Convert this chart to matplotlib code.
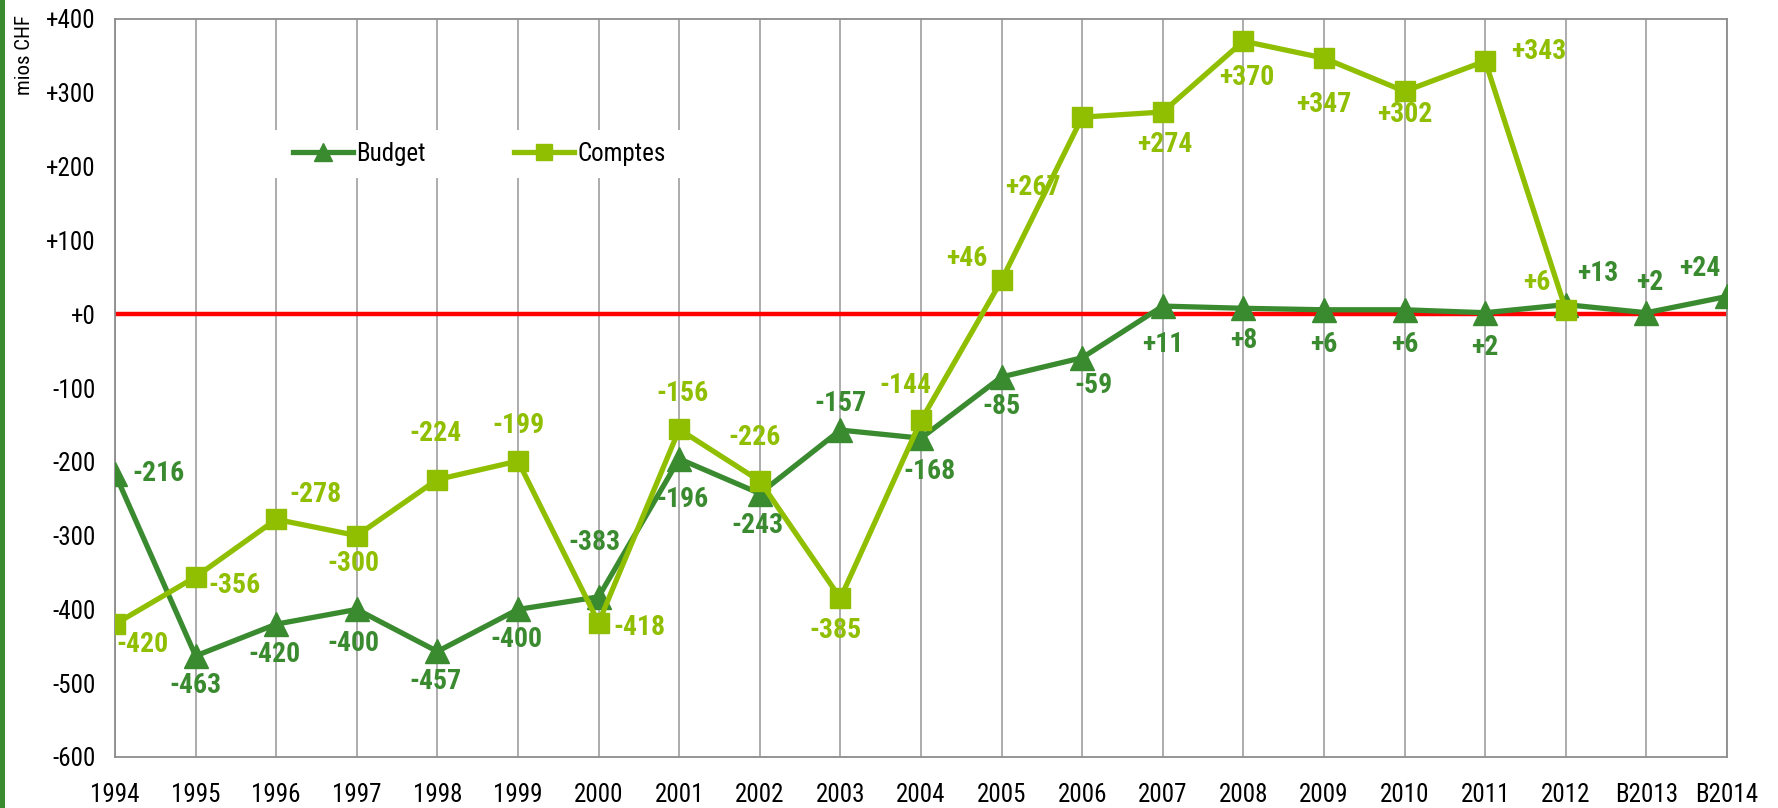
import matplotlib
matplotlib.use("Agg")
import matplotlib.pyplot as plt
from matplotlib import font_manager
from matplotlib.patches import Rectangle

# Data
years = ['1994', '1995', '1996', '1997', '1998', '1999', '2000', '2001', '2002', '2003',
         '2004', '2005', '2006', '2007', '2008', '2009', '2010', '2011', '2012', 'B2013', 'B2014']
budget = [-216, -463, -420, -400, -457, -400, -383, -196, -243, -157,
          -168, -85, -59, 11, 8, 6, 6, 2, 13, 2, 24]
comptes = [-420, -356, -278, -300, -224, -199, -418, -156, -226, -385,
           -144, 46, 267, 274, 370, 347, 302, 343, 6]

# label offsets in pixels (dx, dy with dy positive = down)
budget_off = [(44, 0), (0, 30), (-2, 30), (-3, 34), (-2, 30), (-2, 30), (-4, -54), (3, 41),
              (-2, 32), (0, -27), (8, 33), (0, 30), (11, 28), (0, 38), (0, 32), (0, 35),
              (0, 35), (0, 35), (32, -31), (3, -30), (-27, -28)]
comptes_off = [(27, 20), (39, 9), (39, -25), (-3, 28), (-2, -46), (0, -36), (41, 5), (3, -36),
               (-5, -43), (-5, 32), (-16, -35), (-35, -22), (-49, 70), (2, 33), (3, 36),
               (0, 46), (0, 23), (54, -10), (-29, -27)]

dark = '#3a8a2f'
light = '#8fbf00'

# pick a narrow family if one is installed
installed = {f.name for f in font_manager.fontManager.ttflist}
wanted = ['Liberation Sans Narrow', 'Arial Narrow', 'Roboto Condensed', 'Open Sans Condensed',
          'DejaVu Sans Condensed', 'Liberation Sans']
fams = [f for f in wanted if f in installed] + ['DejaVu Sans']
plt.rcParams['font.family'] = fams[:1] + ['DejaVu Sans']
narrow = fams[0] != 'Liberation Sans'
lbl_size = 20 if narrow else 19
tick_size = 18 if narrow else 16

fig = plt.figure(figsize=(17.78, 8.08), dpi=100)
ax = fig.add_axes([115 / 1778, 1 - 757 / 808, 1612 / 1778, 738 / 808])

x = list(range(len(years)))
ax.axhline(0, color='#ff0000', lw=3.2, zorder=2)
ax.plot(x, budget, color=dark, lw=3.8, marker='^', ms=17, label='Budget', zorder=4)
ax.plot(x[:len(comptes)], comptes, color=light, lw=3.8, marker='s', ms=14,
        label='Comptes', zorder=5)

for i, v in enumerate(budget):
    dx, dy = budget_off[i]
    ax.annotate(f'{v:+d}', (i, v), xytext=(dx, -dy), textcoords='offset pixels',
                ha='center', va='center', fontsize=lbl_size, fontweight='bold', color=dark,
                zorder=6, annotation_clip=False)
for i, v in enumerate(comptes):
    dx, dy = comptes_off[i]
    ax.annotate(f'{v:+d}', (i, v), xytext=(dx, -dy), textcoords='offset pixels',
                ha='center', va='center', fontsize=lbl_size, fontweight='bold', color=light,
                zorder=6, annotation_clip=False)

ax.set_xlim(0, len(years) - 1)
ax.set_ylim(-600, 400)
ax.set_xticks(x)
ax.set_xticklabels(years)
ax.set_yticks(range(-600, 401, 100))
ax.set_yticklabels([f'{t:+d}' if t >= 0 else str(t) for t in range(-600, 401, 100)])
ax.tick_params(length=0, labelsize=tick_size)
ax.tick_params(axis='x', pad=19)
ax.tick_params(axis='y', pad=14)
ax.grid(axis='x', color='#a6a6a6', lw=1.3)
ax.set_axisbelow(True)
for s in ax.spines.values():
    s.set_color('#8c8c8c')
    s.set_linewidth(1.3)

# white legend box hiding gridlines
ax.add_patch(Rectangle((0.096, 0.785), 0.267, 0.065, transform=ax.transAxes,
                       facecolor='white', edgecolor='none', zorder=1.5))
ax.legend(loc='center', bbox_to_anchor=(0.226, 0.817), ncol=2, frameon=False,
          fontsize=tick_size, handlelength=2.4, handletextpad=0.15, columnspacing=3.5,
          markerscale=0.8)

fig.text(0.014, 1 - 15 / 808, 'mios CHF', rotation=90, ha='center', va='top', fontsize=15)
fig.patches.append(Rectangle((0, 0), 5 / 1778, 1, transform=fig.transFigure,
                             facecolor=dark, edgecolor='none'))

fig.savefig('out.png', dpi=100)
